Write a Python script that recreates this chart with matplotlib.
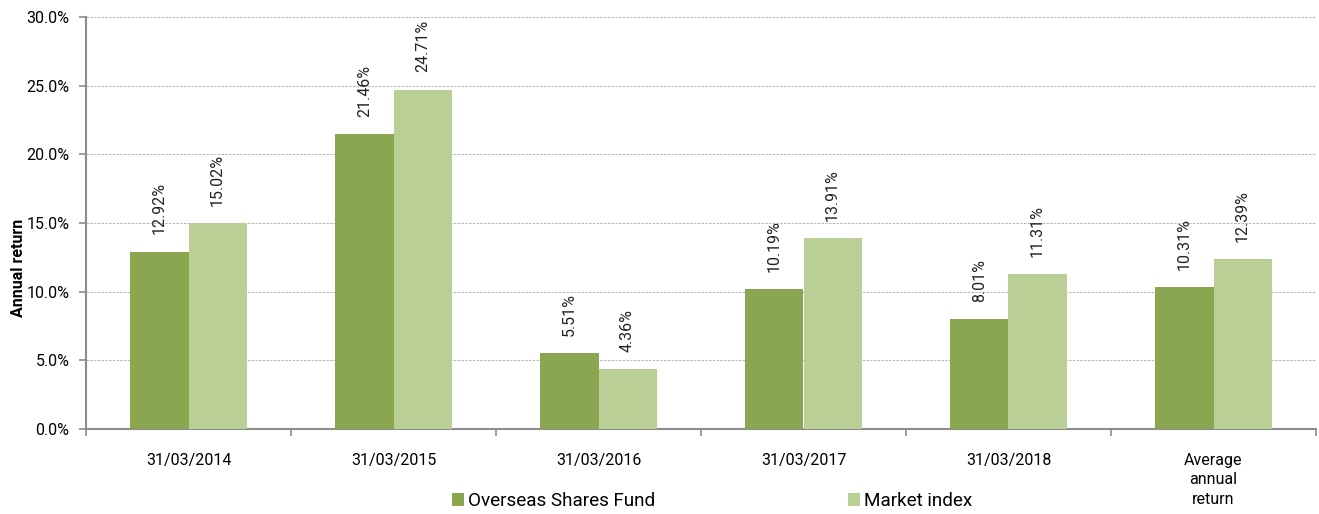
import matplotlib.pyplot as plt
import numpy as np

plt.rcParams['font.family'] = ['Roboto', 'DejaVu Sans']

# data
categories = ['31/03/2014', '31/03/2015', '31/03/2016', '31/03/2017', '31/03/2018',
              'Average\nannual\nreturn']
fund = [12.92, 21.46, 5.51, 10.19, 8.01, 10.31]
market = [15.02, 24.71, 4.36, 13.91, 11.31, 12.39]
series_names = ['Overseas Shares Fund', 'Market index']

fund_color = '#8BA650'
market_color = '#BACF96'
axis_color = '#8C8C8C'

fig = plt.figure(figsize=(13.19, 5.14), dpi=100)
ax = fig.add_axes([86 / 1319, 1 - 429 / 514, (1316 - 86) / 1319, (429 - 17) / 514])

x = np.arange(len(categories))
w = 0.283
b1 = ax.bar(x - w / 2, fund, w, color=fund_color, label=series_names[0], zorder=3)
b2 = ax.bar(x + w / 2, market, w, color=market_color, label=series_names[1], zorder=3)

# rotated value labels above bars
for bars, vals in ((b1, fund), (b2, market)):
    for r, v in zip(bars, vals):
        ax.text(r.get_x() + r.get_width() / 2, v + 1.25, '%.2f%%' % v,
                rotation=90, ha='center', va='bottom', fontsize=11.5, color='#222222')

ax.set_xlim(-0.5, len(categories) - 0.5)
ax.set_ylim(0, 30)
ax.set_yticks(np.arange(0, 30.1, 5))
ax.set_yticklabels(['%.1f%%' % t for t in np.arange(0, 30.1, 5)], fontsize=11.5)
ax.set_xticks(x)
ax.set_xticklabels(categories, fontsize=11.5, linespacing=1.4)
ax.set_xticks(np.arange(-0.5, len(categories)), minor=True)
ax.tick_params(axis='x', which='major', length=0, pad=17)
ax.tick_params(axis='x', which='minor', length=5, width=1.2, color=axis_color)
ax.tick_params(axis='y', length=5, width=1.2, color=axis_color, pad=7)

ax.yaxis.grid(True, linestyle=(0, (3, 1.5)), color='#AAAAAA', linewidth=0.6, zorder=0)
ax.set_axisbelow(True)

for s in ('top', 'right'):
    ax.spines[s].set_visible(False)
for s in ('left', 'bottom'):
    ax.spines[s].set_color(axis_color)
    ax.spines[s].set_linewidth(1.5)

ax.set_ylabel('Annual return', fontsize=11.5, fontweight='bold')
ax.yaxis.set_label_coords(-0.049, 0.39)

fig.legend(loc='center', bbox_to_anchor=(0.540, 0.025), ncol=2, frameon=False,
           fontsize=13.6, handlelength=0.65, handleheight=0.65, handletextpad=0.2,
           columnspacing=10.2)

fig.savefig('out.png', dpi=100)
